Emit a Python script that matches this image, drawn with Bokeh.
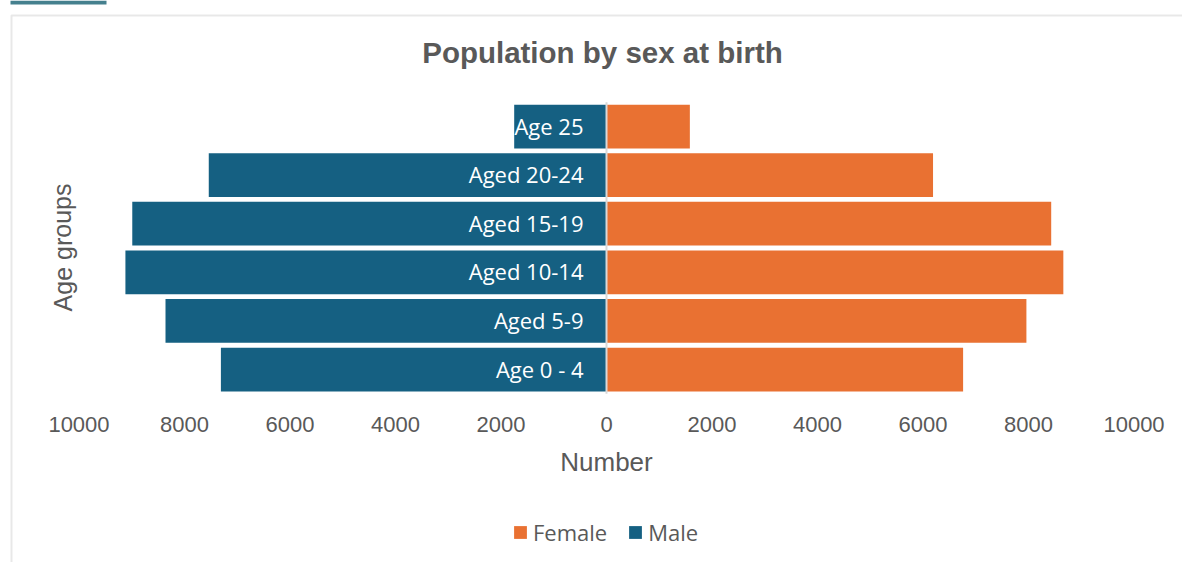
from bokeh.plotting import figure
from bokeh.models import (ColumnDataSource, Label, Legend, LegendItem,
                          FixedTicker, BoxAnnotation, LinearAxis, Range1d)
from bokeh.core.properties import value
from bokeh.embed import file_html
from bokeh.resources import INLINE

# ---- data ----
categories = ["Age 0 - 4", "Aged 5-9", "Aged 10-14", "Aged 15-19", "Aged 20-24", "Age 25"]
male = [7310, 8360, 9120, 8990, 7540, 1750]
female = [6760, 7960, 8660, 8430, 6190, 1580]
tick_values = [-10000, -8000, -6000, -4000, -2000, 0, 2000, 4000, 6000, 8000, 10000]
tick_labels = ["10000", "8000", "6000", "4000", "2000", "0", "2000", "4000", "6000", "8000", "10000"]

MALE_C = "#156082"
FEMALE_C = "#E97132"
TXT = "#595959"

W, H = 1182, 562

src = ColumnDataSource(dict(
    cat=categories,
    ypos=list(range(len(categories))),
    male_left=[-v for v in male],
    zero=[0] * len(categories),
    female=female,
))

p = figure(width=W, height=H,
           x_range=Range1d(-11488, 10919), y_range=Range1d(-3.971, 7.593),
           output_backend="svg", toolbar_location=None, title=None,
           x_axis_location=None, y_axis_location=None,
           min_border=0, min_border_left=0, min_border_right=0,
           min_border_top=0, min_border_bottom=0)
p.outline_line_color = None
p.grid.visible = False
p.background_fill_color = "white"
p.border_fill_color = "white"

rm = p.hbar(y="ypos", left="male_left", right="zero", height=0.9, source=src,
            fill_color=MALE_C, line_color=None)
rf = p.hbar(y="ypos", left="zero", right="female", height=0.9, source=src,
            fill_color=FEMALE_C, line_color=None)

# zero line spanning the category area
p.segment(x0=[0], y0=[-0.5], x1=[0], y1=[len(categories) - 0.5],
          line_color="#d9d9d9", line_width=2)

p.text(x="zero", y="ypos", text="cat", source=src, x_offset=-23, y_offset=-1,
       text_align="right", text_baseline="middle", text_color="white",
       text_font=value("Open Sans"), text_font_size="22px")

# x axis drawn inside the canvas
ax = LinearAxis(fixed_location=-0.5, bounds=(-10000, 10000))
ax.ticker = FixedTicker(ticks=tick_values)
ax.major_label_overrides = {v: l for v, l in zip(tick_values, tick_labels)}
ax.axis_line_color = None
ax.major_tick_line_color = None
ax.minor_tick_line_color = None
ax.major_tick_in = 0
ax.major_tick_out = 0
ax.major_label_standoff = 23
ax.major_label_text_font = "Liberation Sans"
ax.major_label_text_font_size = "22px"
ax.major_label_text_color = TXT
ax.axis_label = "Number"
ax.axis_label_text_font = "Liberation Sans"
ax.axis_label_text_font_size = "26px"
ax.axis_label_text_font_style = "normal"
ax.axis_label_text_color = TXT
ax.axis_label_standoff = 12
p.add_layout(ax, "below")

# title and y label (screen units from bottom-left)
p.add_layout(Label(x=602, y=H - 52, x_units="screen", y_units="screen",
                   text="Population by sex at birth", text_align="center",
                   text_baseline="middle", text_font="Liberation Sans",
                   text_font_size="29.5px", text_font_style="bold", text_color=TXT))
p.add_layout(Label(x=62, y=H - 247, x_units="screen", y_units="screen",
                   text="Age groups", angle=1.5708, text_align="center",
                   text_baseline="middle", text_font="Liberation Sans",
                   text_font_size="25px", text_color=TXT))

# legend
legend = Legend(items=[LegendItem(label="Female", renderers=[rf]),
                       LegendItem(label="Male", renderers=[rm])],
                orientation="horizontal", location=(512, H - 547),
                glyph_width=16, glyph_height=16, label_standoff=5, spacing=20,
                padding=0, margin=0, border_line_color=None,
                background_fill_alpha=0, label_text_font="Open Sans",
                label_text_font_size="22px", label_text_color=TXT)
p.add_layout(legend, "center")

# chart border and top-left strip
p.add_layout(BoxAnnotation(left=11, right=W + 50, top=15, bottom=H + 50,
                           left_units="canvas", right_units="canvas",
                           top_units="canvas", bottom_units="canvas",
                           fill_alpha=0, line_color="#b3b3b3", line_width=2,
                           editable=False))
p.add_layout(BoxAnnotation(left=10, right=106, top=0, bottom=4,
                           left_units="canvas", right_units="canvas",
                           top_units="canvas", bottom_units="canvas",
                           fill_color="#45808e", fill_alpha=1, line_color=None))

open("out.html", "w").write(file_html(p, INLINE))
